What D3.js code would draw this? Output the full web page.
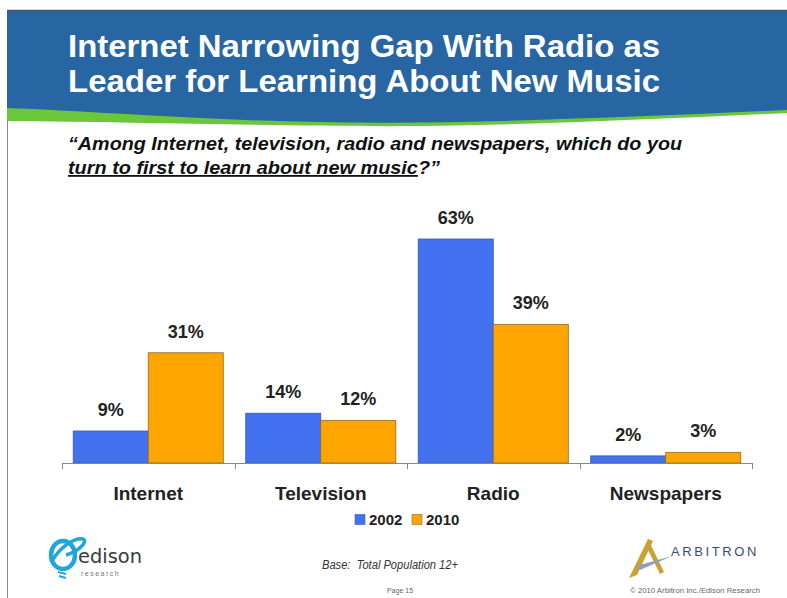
<!DOCTYPE html>
<html>
<head>
<meta charset="utf-8">
<script src="https://cdn.jsdelivr.net/npm/d3@7"></script>
<style>
  html, body { margin: 0; padding: 0; background: #fff; }
  svg { display: block; font-family: "Liberation Sans", Arial, sans-serif; }
</style>
</head>
<body>
<svg id="chart" width="787" height="598"></svg>
<script>
// Share of respondents naming each medium first for learning about new music
const categories = ["Internet", "Television", "Radio", "Newspapers"];
const seriesNames = ["2002", "2010"];
const values2002 = [9, 14, 63, 2];
const values2010 = [31, 12, 39, 3];
const seriesColors = ["#4272ef", "#ffa500"];
const seriesStroke = ["#3a5aa8", "#8a6a30"];

const titleLines = ["Internet Narrowing Gap With Radio as", "Leader for Learning About New Music"];
const questionLine1 = "\u201cAmong Internet, television, radio and newspapers, which do you";
const questionLine2u = "turn to first to learn about new music";
const questionLine2 = "?\u201d";

const svg = d3.select("#chart");

// ---- Slide frame and header band ----
svg.append("rect").attr("x", 0).attr("y", 0).attr("width", 787).attr("height", 598).attr("fill", "#fff");
svg.append("line").attr("x1", 7.5).attr("x2", 7.5).attr("y1", 10).attr("y2", 598)
  .attr("stroke", "#8a8a8a").attr("stroke-width", 1);

// green swoosh under the blue band
svg.append("path")
  .attr("d", "M7,100 L7,121 C150,122 300,127 420,126 C520,125 600,121 700,117 L787,113 L787,100 Z")
  .attr("fill", "#6cc63c");
// blue band with curved lower edge
svg.append("path")
  .attr("d", "M7,10 L787,10 L787,110 C700,114 600,118 500,121 C400,124 300,123 200,118 C120,114 60,110 7,108 Z")
  .attr("fill", "#2866a3");
svg.append("line").attr("x1", 7).attr("x2", 787).attr("y1", 10.5).attr("y2", 10.5)
  .attr("stroke", "#4a5a6a").attr("stroke-width", 1.5);

svg.selectAll("text.title").data(titleLines).join("text")
  .attr("class", "title")
  .attr("x", 68).attr("y", (d, i) => 57 + i * 35)
  .attr("fill", "#fff").attr("font-size", 32).attr("font-weight", "bold")
  .attr("textLength", 592)
  .attr("lengthAdjust", "spacingAndGlyphs")
  .text(d => d);

// ---- Question text ----
svg.append("text").attr("x", 68).attr("y", 150)
  .attr("font-size", 18).attr("font-weight", "bold").attr("font-style", "italic").attr("fill", "#111")
  .attr("textLength", 614).attr("lengthAdjust", "spacingAndGlyphs")
  .text(questionLine1);
const q2 = svg.append("text").attr("x", 68).attr("y", 174)
  .attr("font-size", 18).attr("font-weight", "bold").attr("font-style", "italic").attr("fill", "#111")
  .attr("textLength", 372).attr("lengthAdjust", "spacingAndGlyphs");
q2.append("tspan").attr("text-decoration", "underline").text(questionLine2u);
q2.append("tspan").text(questionLine2);

// ---- Chart scales ----
const x0 = d3.scaleBand().domain(categories).range([62, 752]).paddingInner(0.13).paddingOuter(0.065);
const x1 = d3.scaleBand().domain(seriesNames).range([0, x0.bandwidth()]);
const y = d3.scaleLinear().domain([0, 63]).range([463, 239]);

const rows = categories.map((c, i) => ({ category: c, values: [values2002[i], values2010[i]] }));

const groups = svg.selectAll("g.group").data(rows).join("g")
  .attr("class", "group")
  .attr("transform", d => `translate(${x0(d.category)},0)`);

groups.selectAll("rect").data(d => d.values.map((v, j) => ({ v, j }))).join("rect")
  .attr("x", d => x1(seriesNames[d.j]))
  .attr("y", d => y(d.v))
  .attr("width", x1.bandwidth())
  .attr("height", d => y(0) - y(d.v))
  .attr("fill", d => seriesColors[d.j])
  .attr("stroke", d => seriesStroke[d.j])
  .attr("stroke-width", 0.8);

groups.selectAll("text.val").data(d => d.values.map((v, j) => ({ v, j }))).join("text")
  .attr("class", "val")
  .attr("x", d => x1(seriesNames[d.j]) + x1.bandwidth() / 2)
  .attr("y", d => y(d.v) - 15)
  .attr("text-anchor", "middle")
  .attr("font-size", 18).attr("font-weight", "bold").attr("fill", "#222")
  .text(d => d.v + "%");

// ---- Category axis with ticks at the band boundaries ----
const axisY = y(0);
const [r0, r1] = x0.range();
svg.append("line").attr("x1", r0).attr("x2", r1).attr("y1", axisY + 0.5).attr("y2", axisY + 0.5)
  .attr("stroke", "#888").attr("stroke-width", 1);
const tickXs = d3.range(categories.length + 1).map(i => r0 + i * (r1 - r0) / categories.length);
svg.selectAll("line.tick").data(tickXs).join("line")
  .attr("class", "tick")
  .attr("x1", d => Math.round(d) + 0.5).attr("x2", d => Math.round(d) + 0.5)
  .attr("y1", axisY).attr("y2", axisY + 6)
  .attr("stroke", "#888");

svg.selectAll("text.cat").data(categories).join("text")
  .attr("class", "cat")
  .attr("x", d => x0(d) + x0.bandwidth() / 2)
  .attr("y", 500)
  .attr("text-anchor", "middle")
  .attr("font-size", 19).attr("font-weight", "bold").attr("fill", "#222")
  .text(d => d);

// ---- Legend ----
const legend = svg.append("g").attr("transform", "translate(355,514)");
const legendItems = legend.selectAll("g").data(seriesNames).join("g")
  .attr("transform", (d, i) => `translate(${i * 57},0)`);
legendItems.append("rect").attr("width", 10).attr("height", 10).attr("y", 0.5)
  .attr("fill", (d, i) => seriesColors[i]).attr("stroke", (d, i) => seriesStroke[i]).attr("stroke-width", 0.6);
legendItems.append("text").attr("x", 14).attr("y", 11)
  .attr("font-size", 15).attr("font-weight", "bold").attr("fill", "#222").text(d => d);

// ---- Footer ----
svg.append("text").attr("x", 322).attr("y", 569)
  .attr("font-size", 12.5).attr("font-style", "italic").attr("fill", "#333")
  .style("white-space", "pre")
  .attr("textLength", 136).attr("lengthAdjust", "spacingAndGlyphs")
  .text("Base:  Total Population 12+");
svg.append("text").attr("x", 400).attr("y", 593).attr("text-anchor", "middle")
  .attr("font-size", 7).attr("fill", "#666").text("Page 15");
svg.append("text").attr("x", 630).attr("y", 593)
  .attr("font-size", 7).attr("fill", "#666")
  .attr("textLength", 130).attr("lengthAdjust", "spacingAndGlyphs")
  .text("\u00a9 2010 Arbitron Inc./Edison Research");

// Edison Research mark
const ed = svg.append("g");
ed.append("ellipse").attr("cx", 63).attr("cy", 555).attr("rx", 12).attr("ry", 14)
  .attr("fill", "none").attr("stroke", "#1fa6dc").attr("stroke-width", 4.5);
ed.append("path").attr("d", "M52,561 C60,547 75,537 83,539 C88,541 80,551 66,555")
  .attr("fill", "none").attr("stroke", "#1fa6dc").attr("stroke-width", 3.5);
ed.append("path").attr("d", "M58,572 L66,574 M59,576 L66,578")
  .attr("fill", "none").attr("stroke", "#1fa6dc").attr("stroke-width", 2);
ed.append("text").attr("x", 78).attr("y", 563).attr("font-size", 19).attr("fill", "#3a3a3a")
  .attr("font-family", "'DejaVu Sans', sans-serif").attr("textLength", 64).attr("lengthAdjust", "spacingAndGlyphs").text("edison");
ed.append("text").attr("x", 81).attr("y", 576).attr("font-size", 7).attr("fill", "#777")
  .attr("letter-spacing", 1.5).text("research");

// Arbitron mark
const ar = svg.append("g");
ar.append("path").attr("d", "M629,578 L648,539 L653,541 L637,575 Z").attr("fill", "#c9a233");
ar.append("path").attr("d", "M648,539 L664,572 L660,574 L646,546 Z").attr("fill", "#c9a233");
ar.append("path").attr("d", "M636,566 L672,556 L640,570 Z").attr("fill", "#8fa0be");
ar.append("text").attr("x", 671).attr("y", 556).attr("font-size", 13).attr("fill", "#3c4a72")
  .attr("letter-spacing", 2.6).text("ARBITRON");
</script>
</body>
</html>
